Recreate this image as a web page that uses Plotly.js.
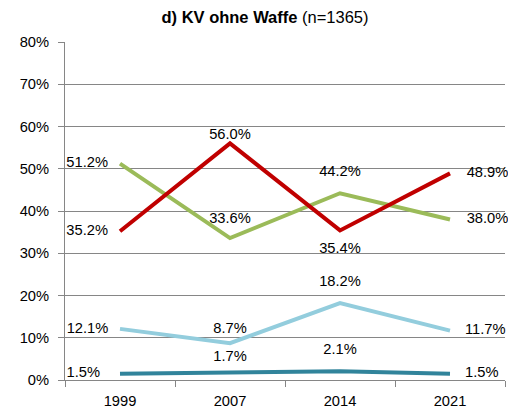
<!DOCTYPE html>
<html>
<head>
<meta charset="utf-8">
<script src="https://cdn.plot.ly/plotly-3.0.1.min.js"></script>
<style>html,body{margin:0;padding:0;background:#fff;}#chart{width:508px;height:410px;}</style>
</head>
<body>
<div id="chart"></div>
<script>
// ---- data ----
var years = ['1999', '2007', '2014', '2021'];
var greenValues = [51.2, 33.6, 44.2, 38.0];
var redValues = [35.2, 56.0, 35.4, 48.9];
var lightBlueValues = [12.1, 8.7, 18.2, 11.7];
var tealValues = [1.5, 1.7, 2.1, 1.5];
var yTickVals = [0, 10, 20, 30, 40, 50, 60, 70, 80];
var yTickLabels = ['0%', '10%', '20%', '30%', '40%', '50%', '60%', '70%', '80%'];

// ---- styling (label placement) ----
var seriesStyle = [
  {vals: greenValues, color: '#9BBB59',
   pos: ['middle left', 'top center', 'top center', 'middle right'], gap: [17.6, 16.3, 20.5, 25.1]},
  {vals: redValues, color: '#C00000',
   pos: ['middle left', 'top center', 'bottom center', 'middle right'], gap: [17.6, 0.3, 17.4, 25.1]},
  {vals: lightBlueValues, color: '#93CDDD',
   pos: ['middle left', 'top center', 'top center', 'middle right'], gap: [17.1, 8.3, 20, 22.4]},
  {vals: tealValues, color: '#31849B',
   pos: ['middle left', 'top center', 'top center', 'middle right'], gap: [30.4, 11, 20.6, 22.4]}
];

var FONT = 'Liberation Sans, Arial, sans-serif';
var traces = seriesStyle.map(function (s) {
  return {
    type: 'scatter',
    mode: 'lines+markers+text',
    x: years,
    y: s.vals,
    line: {color: s.color, width: 4},
    marker: {size: s.gap, opacity: 0, color: s.color},
    texttemplate: '%{y:.1f}%',
    textposition: s.pos,
    textfont: {family: FONT, size: 14.7, color: '#000'},
    cliponaxis: false,
    hoverinfo: 'skip'
  };
});

var layout = {
  width: 508,
  height: 410,
  margin: {l: 65, r: 3, t: 42, b: 30, pad: 0},
  paper_bgcolor: '#fff',
  plot_bgcolor: '#fff',
  showlegend: false,
  font: {family: FONT, size: 14.7, color: '#000'},
  title: {
    text: '<b>d) KV ohne Waffe</b> (n=1365)',
    font: {family: FONT, size: 16.5, color: '#000'},
    xref: 'container', yref: 'container',
    x: 265 / 508, xanchor: 'center',
    y: 1 - 17 / 410, yanchor: 'middle'
  },
  xaxis: {
    type: 'category',
    range: [-0.5, 3.5],
    tickson: 'boundaries',
    ticks: 'outside',
    ticklen: 6,
    tickcolor: '#868686',
    showline: true,
    linecolor: '#868686',
    linewidth: 1,
    showgrid: false,
    zeroline: false,
    ticklabelstandoff: 7,
    tickfont: {family: FONT, size: 14.7, color: '#000'}
  },
  yaxis: {
    range: [0, 80],
    tickmode: 'array',
    tickvals: yTickVals,
    ticktext: yTickLabels,
    ticks: 'outside',
    ticklen: 6,
    tickcolor: '#868686',
    showline: true,
    linecolor: '#868686',
    linewidth: 1,
    showgrid: true,
    gridcolor: '#868686',
    gridwidth: 1,
    zeroline: false,
    ticklabelstandoff: 6,
    tickfont: {family: FONT, size: 14.7, color: '#000'}
  }
};

Plotly.newPlot('chart', traces, layout, {displayModeBar: false, staticPlot: true});
</script>
</body>
</html>
